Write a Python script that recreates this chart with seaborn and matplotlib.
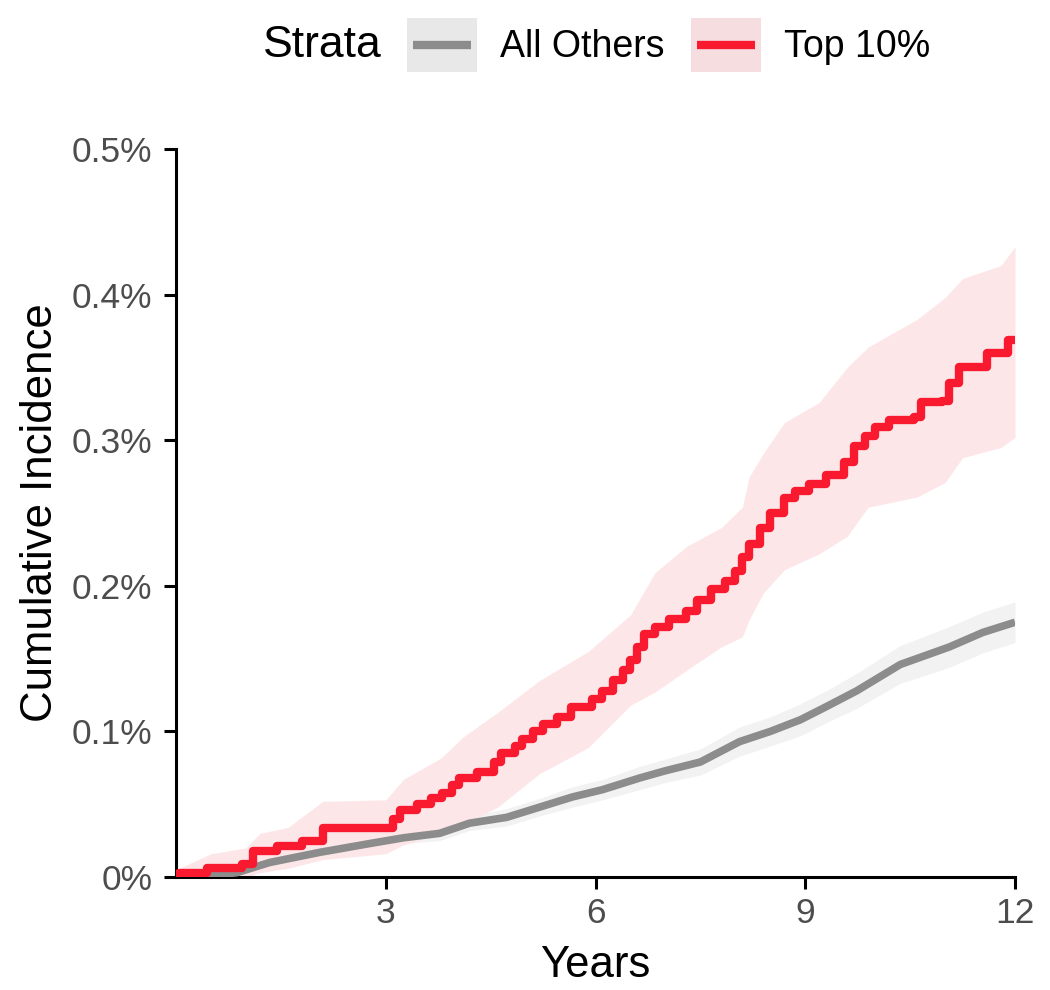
import numpy as np
import pandas as pd
import seaborn as sns
import matplotlib
matplotlib.use("Agg")
import matplotlib.pyplot as plt
from matplotlib.patches import Rectangle
from matplotlib.lines import Line2D
from matplotlib.ticker import FuncFormatter

# Top 10% stratum: step curve (cumulative incidence, in percent)
top_time = [0, 0.05, 0.45, 0.95, 1.1, 1.45, 1.8, 2.1, 2.95, 3.1, 3.2, 3.45, 3.65, 3.8,
            3.95, 4.05, 4.3, 4.55, 4.65, 4.85, 4.95, 5.1, 5.25, 5.45, 5.65, 5.95, 6.1,
            6.25, 6.4, 6.5, 6.6, 6.7, 6.85, 7.05, 7.3, 7.45, 7.65, 7.85, 8.0, 8.1, 8.2,
            8.35, 8.5, 8.7, 8.85, 9.05, 9.3, 9.55, 9.7, 9.85, 10.0, 10.2, 10.55, 10.65,
            10.95, 11.05, 11.2, 11.5, 11.6, 11.85, 11.9, 12.0]
top_val = [0.0, 0.003, 0.006, 0.009, 0.018, 0.021, 0.025, 0.034, 0.034, 0.040, 0.046,
           0.050, 0.054, 0.058, 0.063, 0.068, 0.072, 0.079, 0.085, 0.090, 0.095, 0.100,
           0.105, 0.110, 0.117, 0.122, 0.128, 0.135, 0.142, 0.149, 0.158, 0.167, 0.172,
           0.177, 0.183, 0.190, 0.198, 0.203, 0.210, 0.220, 0.229, 0.240, 0.250, 0.260,
           0.265, 0.270, 0.276, 0.285, 0.296, 0.303, 0.309, 0.314, 0.316, 0.326, 0.327,
           0.339, 0.350, 0.350, 0.360, 0.360, 0.369, 0.369]

# Top 10% confidence band
top_band_time = [0, 0.5, 1.0, 1.2, 1.6, 2.1, 3.0, 3.25, 3.8, 4.1, 4.6, 5.2, 5.9, 6.5,
                 6.85, 7.3, 7.8, 8.1, 8.2, 8.4, 8.7, 9.2, 9.6, 9.9, 10.6, 11.0, 11.25,
                 11.8, 12.0]
top_upper = [0.005, 0.016, 0.020, 0.030, 0.034, 0.052, 0.053, 0.067, 0.082, 0.096, 0.113,
             0.135, 0.155, 0.180, 0.209, 0.227, 0.240, 0.254, 0.275, 0.291, 0.312, 0.326,
             0.350, 0.364, 0.383, 0.398, 0.411, 0.420, 0.433]
top_lower = [0.0, 0.0, 0.0, 0.003, 0.006, 0.012, 0.016, 0.022, 0.030, 0.036, 0.048,
             0.071, 0.089, 0.118, 0.127, 0.142, 0.158, 0.165, 0.177, 0.195, 0.211, 0.222,
             0.234, 0.254, 0.261, 0.271, 0.288, 0.295, 0.302]

# All Others stratum
oth_time = [0, 0.5, 0.87, 1.34, 2.06, 2.77, 3.26, 3.77, 4.2, 4.73, 5.2, 5.67, 6.1, 6.63,
            7.0, 7.5, 8.06, 8.5, 8.93, 9.3, 9.74, 10.36, 11.06, 11.54, 12.0]
oth_val = [0, 0.001, 0.003, 0.010, 0.017, 0.023, 0.027, 0.030, 0.037, 0.041, 0.048, 0.055,
           0.060, 0.068, 0.073, 0.079, 0.093, 0.100, 0.108, 0.117, 0.128, 0.146, 0.158,
           0.168, 0.175]
oth_upper = [0.001, 0.002, 0.005, 0.013, 0.020, 0.027, 0.031, 0.035, 0.042, 0.047, 0.054,
             0.062, 0.067, 0.076, 0.081, 0.088, 0.103, 0.110, 0.119, 0.128, 0.140, 0.159,
             0.172, 0.182, 0.189]
oth_lower = [0, 0, 0.001, 0.007, 0.014, 0.019, 0.023, 0.025, 0.032, 0.035, 0.042, 0.048,
             0.053, 0.060, 0.065, 0.070, 0.083, 0.090, 0.097, 0.106, 0.116, 0.133, 0.144,
             0.154, 0.161]

strata = ["All Others", "Top 10%"]
colors = {"All Others": "#8C8C8C", "Top 10%": "#FA1A30"}
band_colors = {"All Others": "#F2F2F2", "Top 10%": "#FDE6E8"}
key_colors = {"All Others": "#E8E8E8", "Top 10%": "#F6DDE0"}


class KeyHandler:
    # shaded square with a short line inside, like a ggplot legend key
    def __init__(self, box_color):
        self.box_color = box_color

    def legend_artist(self, legend, orig_handle, fontsize, handlebox):
        x0, y0 = -handlebox.xdescent, -handlebox.ydescent
        w, h = handlebox.width, handlebox.height
        tr = handlebox.get_transform()
        box = Rectangle((x0, y0), w, h, facecolor=self.box_color, edgecolor="none", transform=tr)
        ln = Line2D([x0 + 0.09 * w, x0 + 0.91 * w], [y0 + h / 2, y0 + h / 2],
                    color=orig_handle.get_color(), linewidth=6, solid_capstyle="butt",
                    transform=tr)
        handlebox.add_artist(box)
        handlebox.add_artist(ln)
        return box


sns.set_style("white")
plt.rcParams["font.family"] = ["Liberation Sans", "DejaVu Sans"]

top_df = pd.DataFrame({"Years": top_time, "Incidence": top_val, "Strata": "Top 10%"})
oth_df = pd.DataFrame({"Years": oth_time, "Incidence": oth_val, "Strata": "All Others"})

fig = plt.figure(figsize=(10.5, 9.9), dpi=100)
ax = fig.add_axes([0.1676, 0.1141, 0.7991, 0.7354])

ax.fill_between(oth_time, oth_lower, oth_upper, color=band_colors["All Others"], lw=0, zorder=1)
ax.fill_between(top_band_time, top_lower, top_upper,
                color=band_colors["Top 10%"], lw=0, zorder=1)

sns.lineplot(data=oth_df, x="Years", y="Incidence", color=colors["All Others"],
             linewidth=5.5, errorbar=None, legend=False, ax=ax, zorder=3,
             solid_capstyle="butt")
sns.lineplot(data=top_df, x="Years", y="Incidence", color=colors["Top 10%"],
             linewidth=6, errorbar=None, legend=False, ax=ax, zorder=4,
             drawstyle="steps-post", solid_joinstyle="round", solid_capstyle="butt")

ax.set_xlim(0, 12)
ax.set_ylim(0, 0.5)
ax.set_xticks([3, 6, 9, 12])
ax.set_yticks([0, 0.1, 0.2, 0.3, 0.4, 0.5])
ax.yaxis.set_major_formatter(FuncFormatter(lambda v, p: "0%" if v == 0 else f"{v:.1f}%"))
ax.tick_params(axis="both", bottom=True, left=True, length=8.5, width=2.2, color="black",
               labelsize=25.5, labelcolor="#4D4D4D", direction="out")
ax.tick_params(axis="x", pad=6)
ax.tick_params(axis="y", pad=8.5)
sns.despine(ax=ax)
for s in ["left", "bottom"]:
    ax.spines[s].set_linewidth(2.2)
    ax.spines[s].set_color("black")
ax.set_xlabel("Years", fontsize=31.5, labelpad=11, color="black")
ax.set_ylabel("Cumulative Incidence", fontsize=31.5, labelpad=8, color="black")

# legend: title text on the left, two keys in a row
handles = [Line2D([0], [0], color=colors[s]) for s in strata]
hmap = {h: KeyHandler(key_colors[s]) for h, s in zip(handles, strata)}
fig.text(0.25, 0.9545, "Strata", fontsize=32, va="center", ha="left", color="black")
fig.legend(handles, strata, handler_map=hmap,
           loc="center left", bbox_to_anchor=(0.3875, 0.9545), ncol=2, frameon=False,
           fontsize=27, labelcolor="black", handlelength=1.87, handleheight=1.87,
           handletextpad=0.6, columnspacing=0.72, borderpad=0, borderaxespad=0)

fig.savefig("out.png", dpi=100)
